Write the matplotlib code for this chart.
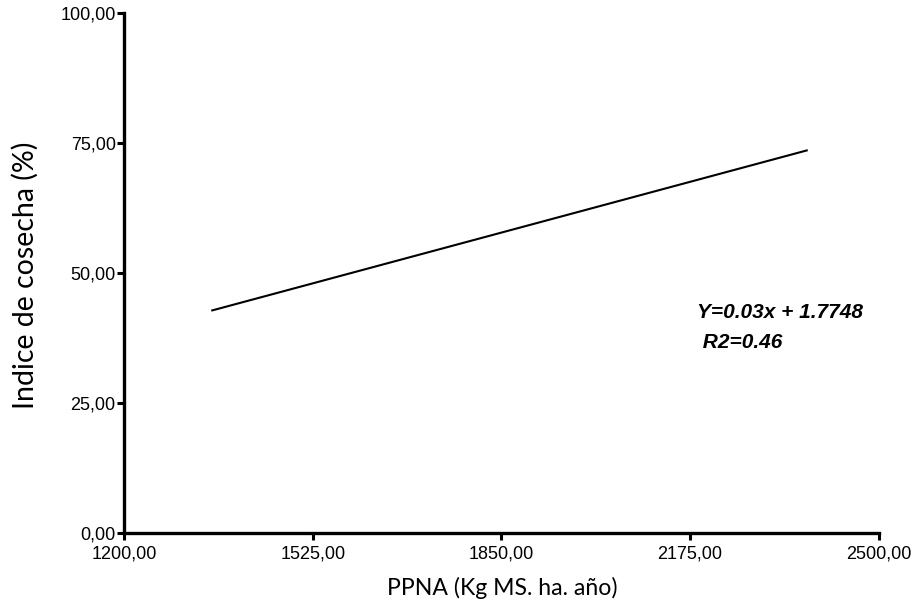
import matplotlib
matplotlib.use("Agg")
import matplotlib.pyplot as plt
from matplotlib.ticker import FuncFormatter

# Data
x_line = [1352, 2376]
y_line = [42.8, 73.6]
x_ticks = [1200, 1525, 1850, 2175, 2500]
y_ticks = [0, 25, 50, 75, 100]
equation = "Y=0.03x + 1.7748"
r2_text = " R2=0.46"
x_label = "PPNA (Kg MS. ha. año)"
y_label = "Indice de cosecha (%)"

fig = plt.figure(figsize=(9.16, 6.06), dpi=100)
ax = fig.add_axes([0.1354, 0.121, 0.9593 - 0.1354, 0.978 - 0.121])

ax.plot(x_line, y_line, color="black", linewidth=1.5)

ax.set_xlim(1200, 2500)
ax.set_ylim(0, 100)
ax.set_xticks(x_ticks)
ax.set_yticks(y_ticks)
fmt = FuncFormatter(lambda v, p: f"{v:.2f}".replace(".", ","))
ax.xaxis.set_major_formatter(fmt)
ax.yaxis.set_major_formatter(fmt)

for s in ["top", "right"]:
    ax.spines[s].set_visible(False)
for s in ["left", "bottom"]:
    ax.spines[s].set_linewidth(2.4)
ax.tick_params(axis="both", direction="out", length=5, width=2.2, pad=1,
               labelsize=13)
ax.tick_params(axis="x", pad=4)
for lab in ax.get_xticklabels() + ax.get_yticklabels():
    lab.set_family("Liberation Sans")

ax.set_xlabel(x_label, family="Lato", fontsize=16.6)
ax.set_ylabel(y_label, family="Lato", fontsize=20.5)
# place labels where the reference has them (pixel centres -> axes coords)
ax.xaxis.set_label_coords((502 - 124) / 755, -(588 - 532.7) / 518.7)
ax.yaxis.set_label_coords((25 - 124) / 755, (532.7 - 276) / 518.7)
ax.xaxis.label.set_va("center")
ax.yaxis.label.set_va("center")

ax.text(2187, 42.3, equation, family="Liberation Sans", fontsize=15,
        fontweight="bold", style="italic", ha="left", va="center")
ax.text(2187, 36.7, r2_text, family="Liberation Sans", fontsize=15,
        fontweight="bold", style="italic", ha="left", va="center")

fig.savefig("out.png", dpi=100)
